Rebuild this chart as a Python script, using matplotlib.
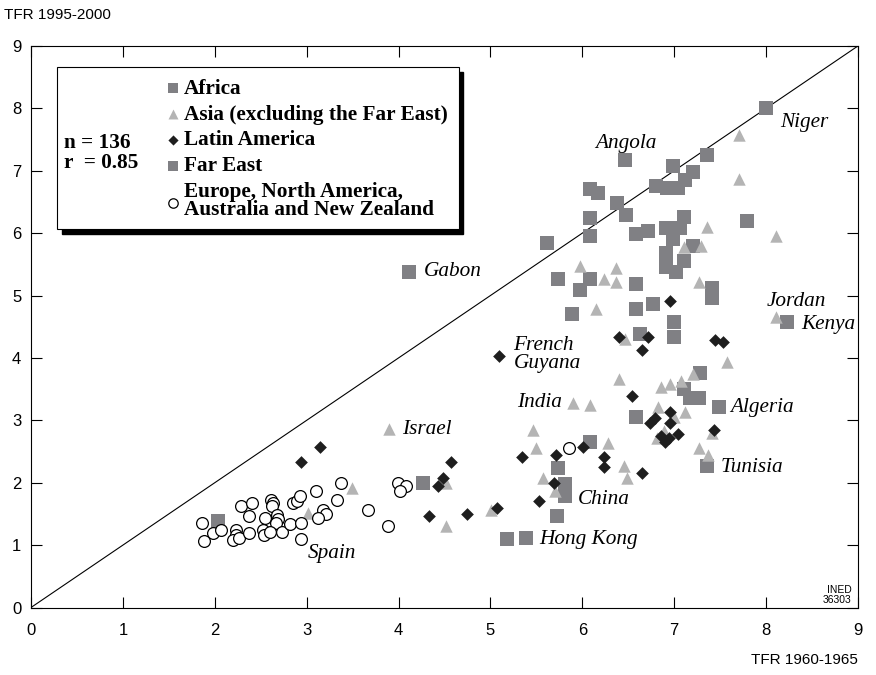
import matplotlib.pyplot as plt
from matplotlib.patches import Rectangle
from matplotlib import font_manager

# --- data (TFR 1960-1965, TFR 1995-2000) ---
africa_x = [8.00, 7.36, 6.46, 6.99, 7.21, 6.80, 6.92, 7.04, 7.12, 6.08, 6.17, 6.38,
            6.48, 6.08, 6.08, 5.62, 7.11, 7.79, 6.58, 6.72, 6.91, 7.06, 6.99, 7.21,
            6.91, 7.11, 6.91, 7.02, 5.74, 6.08, 5.98, 6.58, 7.41, 7.41, 5.89, 6.58,
            6.77, 7.00, 6.63, 7.00, 8.23, 4.11, 7.28, 7.11, 7.17, 7.27, 7.49, 6.58,
            7.36]
africa_y = [8.00, 7.25, 7.17, 7.08, 6.98, 6.76, 6.73, 6.73, 6.85, 6.70, 6.64, 6.49,
            6.29, 6.25, 5.96, 5.85, 6.26, 6.19, 5.98, 6.03, 6.09, 6.09, 5.90, 5.79,
            5.68, 5.55, 5.46, 5.37, 5.27, 5.27, 5.09, 5.18, 5.12, 4.96, 4.70, 4.78,
            4.87, 4.58, 4.39, 4.34, 4.57, 5.38, 3.76, 3.51, 3.35, 3.35, 3.22, 3.05,
            2.27]

asia_x = [7.70, 7.70, 7.36, 8.11, 7.11, 7.29, 5.98, 6.37, 6.24, 6.37, 7.27, 6.15,
          8.11, 6.46, 7.57, 6.40, 6.86, 6.95, 7.07, 7.20, 5.90, 6.08, 6.82, 7.12,
          7.00, 6.89, 6.81, 7.41, 7.27, 7.37, 5.46, 5.50, 6.28, 6.45, 6.49, 5.57,
          5.70, 5.01, 4.52, 4.52, 3.90, 3.49, 3.02]
asia_y = [7.57, 6.86, 6.10, 5.95, 5.77, 5.80, 5.47, 5.44, 5.26, 5.21, 5.21, 4.79,
          4.66, 4.31, 3.93, 3.67, 3.54, 3.58, 3.63, 3.74, 3.28, 3.25, 3.22, 3.14,
          3.06, 2.83, 2.71, 2.79, 2.55, 2.44, 2.84, 2.55, 2.63, 2.26, 2.07, 2.07,
          1.87, 1.56, 1.31, 1.99, 2.86, 1.92, 1.52]

latam_x = [6.95, 6.40, 6.72, 6.65, 7.44, 7.53, 5.09, 6.54, 6.95, 6.79, 6.74, 6.95,
           7.04, 6.86, 6.90, 6.94, 7.43, 5.34, 5.71, 6.01, 6.24, 6.24, 6.65, 5.69,
           5.53, 5.07, 4.75, 4.33, 4.57, 4.48, 4.43, 3.14, 2.94]
latam_y = [4.91, 4.34, 4.34, 4.13, 4.29, 4.26, 4.03, 3.39, 3.13, 3.03, 2.95, 2.95,
           2.78, 2.75, 2.66, 2.71, 2.84, 2.42, 2.44, 2.57, 2.42, 2.25, 2.16, 1.99,
           1.70, 1.59, 1.50, 1.46, 2.34, 2.07, 1.94, 2.58, 2.34]

fareast_x = [6.08, 5.74, 5.81, 5.81, 5.72, 5.18, 5.39, 4.27, 2.04]
fareast_y = [2.65, 2.24, 1.98, 1.78, 1.47, 1.09, 1.11, 2.00, 1.39]

europe_x = [1.86, 1.88, 1.98, 2.07, 2.23, 2.23, 2.20, 2.26, 2.29, 2.41, 2.37, 2.37,
            2.55, 2.53, 2.54, 2.61, 2.63, 2.62, 2.68, 2.69, 2.67, 2.60, 2.73, 2.82,
            2.85, 2.89, 2.93, 2.94, 2.94, 3.10, 3.37, 3.33, 3.18, 3.21, 3.12, 3.67,
            3.88, 3.99, 4.08, 4.02, 5.85]
europe_y = [1.35, 1.07, 1.20, 1.25, 1.25, 1.16, 1.08, 1.12, 1.63, 1.67, 1.47, 1.19,
            1.43, 1.25, 1.16, 1.73, 1.67, 1.62, 1.49, 1.42, 1.36, 1.21, 1.21, 1.34,
            1.67, 1.71, 1.78, 1.36, 1.09, 1.86, 2.00, 1.73, 1.57, 1.50, 1.43, 1.56,
            1.30, 2.00, 1.94, 1.87, 2.55]

names = ["Niger", "Angola", "Gabon", "Jordan", "Kenya", "French\nGuyana", "India",
         "Algeria", "Israel", "Tunisia", "China", "Spain", "Hong Kong"]
name_x = [8.15, 6.14, 4.28, 8.01, 8.38, 5.25, 5.29, 7.61, 4.04, 7.50, 5.95, 3.01, 5.53]
name_y = [7.78, 7.44, 5.38, 4.90, 4.53, 4.06, 3.28, 3.20, 2.86, 2.25, 1.73, 0.86, 1.09]

n_obs = 136
r_val = 0.85

# --- fonts ---
installed = {f.name for f in font_manager.fontManager.ttflist}
narrow = [f for f in ["Liberation Sans Narrow", "DejaVu Sans Condensed", "Liberation Sans"]
          if f in installed]
serif = "Liberation Serif"
fs_serif = 15.3

fig = plt.figure(figsize=(8.76, 6.75), dpi=100)
ax = fig.add_axes([0.0354, 0.1, 0.944, 0.8319])

sq_col = "#808084"
tri_col = "#b4b4b4"
dia_col = "#1e1e1e"

ax.plot([0, 9], [0, 9], color="black", linewidth=0.8, zorder=1)

h_af = ax.scatter(africa_x, africa_y, marker="s", s=88, color=sq_col,
                  linewidths=0, zorder=2, label="Africa")
h_fe = ax.scatter(fareast_x, fareast_y, marker="s", s=88, color=sq_col,
                  linewidths=0, zorder=2, label="Far East")
h_as = ax.scatter(asia_x, asia_y, marker="^", s=80, color=tri_col,
                  linewidths=0, zorder=3, label="Asia (excluding the Far East)")
h_la = ax.scatter(latam_x, latam_y, marker="D", s=42, color=dia_col,
                  linewidths=0, zorder=4, label="Latin America")
h_eu = ax.scatter(europe_x, europe_y, marker="o", s=72, facecolor="white",
                  edgecolor="black", linewidths=0.9, zorder=5,
                  label="Europe, North America,\nAustralia and New Zealand")

for nm, tx, ty in zip(names, name_x, name_y):
    ax.text(tx, ty, nm, family=serif, style="italic", fontsize=fs_serif,
            ha="left", va="center", linespacing=0.95, zorder=6)

ax.set_xlim(0, 9)
ax.set_ylim(0, 9)
ax.set_xticks(range(10))
ax.set_yticks(range(10))
ax.tick_params(direction="in", length=8, width=0.8, top=True, right=True,
               labelsize=12)
ax.tick_params(axis="x", pad=11)
ax.tick_params(axis="y", pad=7)
for lab in ax.get_xticklabels() + ax.get_yticklabels():
    lab.set_family(narrow)
for sp in ax.spines.values():
    sp.set_linewidth(0.8)

# legend frame with hard shadow
bx, by, bw, bh = 0.0314, 0.674, 0.486, 0.2886
ax.add_patch(Rectangle((bx + 0.0055, by - 0.0082), bw, bh, transform=ax.transAxes,
                       facecolor="black", edgecolor="black", zorder=7))
ax.add_patch(Rectangle((bx, by), bw, bh, transform=ax.transAxes,
                       facecolor="white", edgecolor="black", linewidth=0.8, zorder=8))

leg = ax.legend(handles=[h_af, h_as, h_la, h_fe, h_eu], loc="upper left",
                bbox_to_anchor=(0.1644, 0.9414), frameon=False, borderpad=0,
                borderaxespad=0, handlelength=0.6, handletextpad=0.2,
                labelspacing=0.27, markerscale=0.8, scatterpoints=1,
                prop={"family": serif, "weight": "bold", "size": fs_serif})
for t in leg.get_texts():
    t.set_linespacing(0.85)
leg.set_zorder(9)

stat_font = {"family": serif, "weight": "bold", "size": fs_serif}
ax.text(0.040, 0.828, f"n = {n_obs}", transform=ax.transAxes, va="center",
        zorder=9, **stat_font)
ax.text(0.040, 0.791, f"r  = {r_val}", transform=ax.transAxes, va="center",
        zorder=9, **stat_font)

ax.text(0.9925, 0.023, "INED\n36303", transform=ax.transAxes, ha="right",
        va="center", fontsize=7.5, family=narrow, linespacing=1.0)

fig.text(0.004, 0.978, "TFR 1995-2000", family=narrow, fontsize=11,
         ha="left", va="center")
fig.text(0.9795, 0.022, "TFR 1960-1965", family=narrow, fontsize=11,
         ha="right", va="center")

fig.savefig("out.png", dpi=100)
